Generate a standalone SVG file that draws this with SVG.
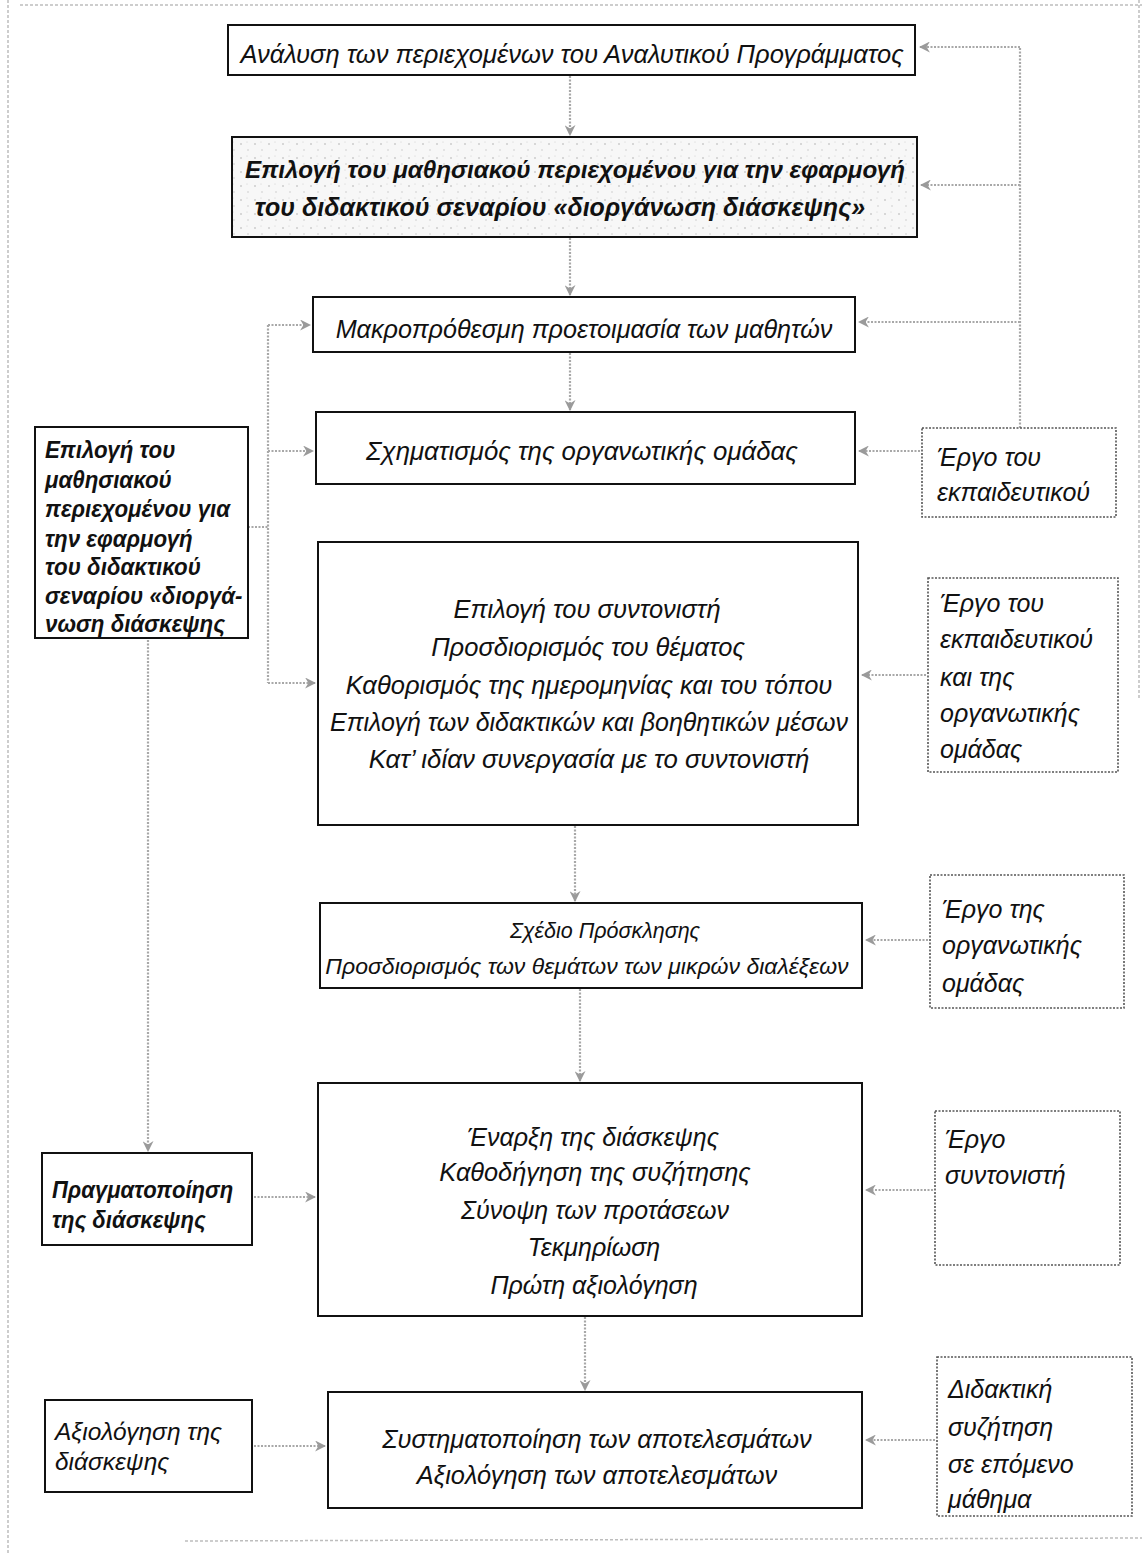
<svg xmlns="http://www.w3.org/2000/svg" width="1142" height="1554" viewBox="0 0 1142 1554">
<style>
.box{fill:#fff;stroke:#111;stroke-width:2}
.rbox{fill:#fff;stroke:#555;stroke-width:1.6;stroke-dasharray:2 1.5}
.t{font-family:"Liberation Sans",Arial,sans-serif;font-style:italic;fill:#111}
.c{text-anchor:middle}
.b{font-weight:bold}
.conn{fill:none;stroke:#a8a8a8;stroke-width:2.2;stroke-dasharray:2 1.5}
.frame{fill:none;stroke:#bdbdbd;stroke-width:1.5;stroke-dasharray:3 2}
</style>
<defs>
<marker id="ah" viewBox="0 0 10 10" refX="9" refY="5" markerWidth="5" markerHeight="5" orient="auto" markerUnits="strokeWidth">
<path d="M0,0 L10,5 L0,10 L3,5 Z" fill="#9a9a9a"/>
</marker>
<pattern id="stip" width="14" height="14" patternUnits="userSpaceOnUse">
<rect width="14" height="14" fill="#f7f7f7"/>
<circle cx="3" cy="4" r="0.8" fill="#b0b0b0"/>
<circle cx="10" cy="10" r="0.7" fill="#c0c0c0"/>
<circle cx="9" cy="2" r="0.5" fill="#c8c8c8"/>
</pattern>
</defs>

<g id="frame">
<line class="frame" x1="8" y1="0" x2="8" y2="1554"/>
<line class="frame" x1="1139" y1="0" x2="1139" y2="700"/>
<line class="frame" x1="20" y1="5" x2="1142" y2="5"/>
<line class="frame" x1="185" y1="1541" x2="1142" y2="1538"/>
</g>

<g id="connectors">
<line class="conn" x1="570" y1="76" x2="570" y2="135" marker-end="url(#ah)"/>
<line class="conn" x1="570" y1="238" x2="570" y2="295" marker-end="url(#ah)"/>
<line class="conn" x1="570" y1="353" x2="570" y2="410" marker-end="url(#ah)"/>
<line class="conn" x1="575" y1="826" x2="575" y2="901" marker-end="url(#ah)"/>
<line class="conn" x1="580" y1="989" x2="580" y2="1081" marker-end="url(#ah)"/>
<line class="conn" x1="585" y1="1317" x2="585" y2="1390" marker-end="url(#ah)"/>
<path class="conn" d="M1020,428 L1020,47"/>
<line class="conn" x1="1020" y1="47" x2="920" y2="47" marker-end="url(#ah)"/>
<line class="conn" x1="1020" y1="185" x2="921" y2="185" marker-end="url(#ah)"/>
<line class="conn" x1="1020" y1="322" x2="859" y2="322" marker-end="url(#ah)"/>
<line class="conn" x1="920" y1="451" x2="859" y2="451" marker-end="url(#ah)"/>
<line class="conn" x1="926" y1="675" x2="862" y2="675" marker-end="url(#ah)"/>
<line class="conn" x1="928" y1="940" x2="866" y2="940" marker-end="url(#ah)"/>
<line class="conn" x1="933" y1="1190" x2="866" y2="1190" marker-end="url(#ah)"/>
<line class="conn" x1="935" y1="1440" x2="866" y2="1440" marker-end="url(#ah)"/>
<path class="conn" d="M248,527 L268,527"/>
<path class="conn" d="M268,325 L268,683"/>
<line class="conn" x1="268" y1="325" x2="310" y2="325" marker-end="url(#ah)"/>
<line class="conn" x1="268" y1="451" x2="313" y2="451" marker-end="url(#ah)"/>
<line class="conn" x1="268" y1="683" x2="315" y2="683" marker-end="url(#ah)"/>
<line class="conn" x1="148" y1="640" x2="148" y2="1151" marker-end="url(#ah)"/>
<line class="conn" x1="254" y1="1197" x2="315" y2="1197" marker-end="url(#ah)"/>
<line class="conn" x1="254" y1="1446" x2="325" y2="1446" marker-end="url(#ah)"/>
</g>

<g id="n1">
<rect class="box" x="228" y="25" width="687" height="50"/>
<text class="t c" x="572" y="63" font-size="25.5">Ανάλυση των περιεχομένων του Αναλυτικού Προγράμματος</text>
</g>
<g id="n2">
<rect class="box" x="232" y="137" width="685" height="100" style="fill:url(#stip)"/>
<text class="t c b" x="575" y="178" font-size="24.2">Επιλογή του μαθησιακού περιεχομένου για την εφαρμογή</text>
<text class="t c b" x="560" y="216" font-size="25">του διδακτικού σεναρίου «διοργάνωση διάσκεψης»</text>
</g>
<g id="n3">
<rect class="box" x="313" y="297" width="542" height="55"/>
<text class="t c" x="584" y="338" font-size="25.2">Μακροπρόθεσμη προετοιμασία των μαθητών</text>
</g>
<g id="n4">
<rect class="box" x="316" y="412" width="539" height="72"/>
<text class="t c" x="582" y="460" font-size="25.8">Σχηματισμός της οργανωτικής ομάδας</text>
</g>
<g id="n5">
<rect class="box" x="318" y="542" width="540" height="283"/>
<text class="t c" x="587" y="618" font-size="25.5">Επιλογή του συντονιστή</text>
<text class="t c" x="588" y="656" font-size="25.5">Προσδιορισμός του θέματος</text>
<text class="t c" x="589" y="694" font-size="25.5">Καθορισμός της ημερομηνίας και του τόπου</text>
<text class="t c" x="589" y="731" font-size="25">Επιλογή των διδακτικών και βοηθητικών μέσων</text>
<text class="t c" x="589" y="768" font-size="25.8">Κατ’ ιδίαν συνεργασία με το συντονιστή</text>
</g>
<g id="n6">
<rect class="box" x="320" y="903" width="542" height="85"/>
<text class="t c" x="605" y="938" font-size="21.5">Σχέδιο Πρόσκλησης</text>
<text class="t c" x="587" y="974" font-size="23">Προσδιορισμός των θεμάτων των μικρών διαλέξεων</text>
</g>
<g id="n7">
<rect class="box" x="318" y="1083" width="544" height="233"/>
<text class="t c" x="593" y="1146" font-size="25">Έναρξη της διάσκεψης</text>
<text class="t c" x="595" y="1181" font-size="25.3">Καθοδήγηση της συζήτησης</text>
<text class="t c" x="595" y="1219" font-size="25">Σύνοψη των προτάσεων</text>
<text class="t c" x="594" y="1256" font-size="25">Τεκμηρίωση</text>
<text class="t c" x="594" y="1294" font-size="25">Πρώτη αξιολόγηση</text>
</g>
<g id="n8">
<rect class="box" x="328" y="1392" width="534" height="116"/>
<text class="t c" x="597" y="1448" font-size="25.4">Συστηματοποίηση των αποτελεσμάτων</text>
<text class="t c" x="597" y="1484" font-size="25.4">Αξιολόγηση των αποτελεσμάτων</text>
</g>

<g id="l1">
<rect class="box" x="35" y="427" width="213" height="211"/>
<g transform="matrix(0.93 0 0 1 3.15 0)">
<text class="t b" x="45" y="458" font-size="24">Επιλογή του</text>
<text class="t b" x="45" y="488" font-size="24">μαθησιακού</text>
<text class="t b" x="45" y="517" font-size="24">περιεχομένου για</text>
<text class="t b" x="45" y="547" font-size="24">την εφαρμογή</text>
<text class="t b" x="45" y="575" font-size="24">του διδακτικού</text>
<text class="t b" x="45" y="604" font-size="24">σεναρίου «διοργά-</text>
<text class="t b" x="45" y="632" font-size="24">νωση διάσκεψης</text>
</g>
</g>
<g id="l2">
<rect class="box" x="42" y="1153" width="210" height="92"/>
<g transform="matrix(0.92 0 0 1 4.16 0)">
<text class="t b" x="52" y="1198" font-size="24">Πραγματοποίηση</text>
<text class="t b" x="52" y="1228" font-size="24">της διάσκεψης</text>
</g>
</g>
<g id="l3">
<rect class="box" x="45" y="1400" width="207" height="92"/>
<text class="t" x="55" y="1440" font-size="24.5">Αξιολόγηση της</text>
<text class="t" x="55" y="1470" font-size="24.5">διάσκεψης</text>
</g>

<g id="r1">
<rect class="rbox" x="922" y="428" width="194" height="89"/>
<text class="t" x="937" y="466" font-size="25">Έργο του</text>
<text class="t" x="937" y="501" font-size="25">εκπαιδευτικού</text>
</g>
<g id="r2">
<rect class="rbox" x="928" y="578" width="190" height="194"/>
<text class="t" x="940" y="612" font-size="25">Έργο του</text>
<text class="t" x="940" y="648" font-size="25">εκπαιδευτικού</text>
<text class="t" x="940" y="686" font-size="25">και της</text>
<text class="t" x="940" y="722" font-size="25">οργανωτικής</text>
<text class="t" x="940" y="758" font-size="25">ομάδας</text>
</g>
<g id="r3">
<rect class="rbox" x="930" y="875" width="194" height="133"/>
<text class="t" x="942" y="918" font-size="25">Έργο της</text>
<text class="t" x="942" y="954" font-size="25">οργανωτικής</text>
<text class="t" x="942" y="992" font-size="25">ομάδας</text>
</g>
<g id="r4">
<rect class="rbox" x="935" y="1111" width="185" height="154"/>
<text class="t" x="945" y="1148" font-size="25">Έργο</text>
<text class="t" x="945" y="1184" font-size="25">συντονιστή</text>
</g>
<g id="r5">
<rect class="rbox" x="937" y="1357" width="195" height="159"/>
<text class="t" x="948" y="1398" font-size="25">Διδακτική</text>
<text class="t" x="948" y="1436" font-size="25">συζήτηση</text>
<text class="t" x="948" y="1473" font-size="25">σε επόμενο</text>
<text class="t" x="948" y="1508" font-size="25">μάθημα</text>
</g>
</svg>
